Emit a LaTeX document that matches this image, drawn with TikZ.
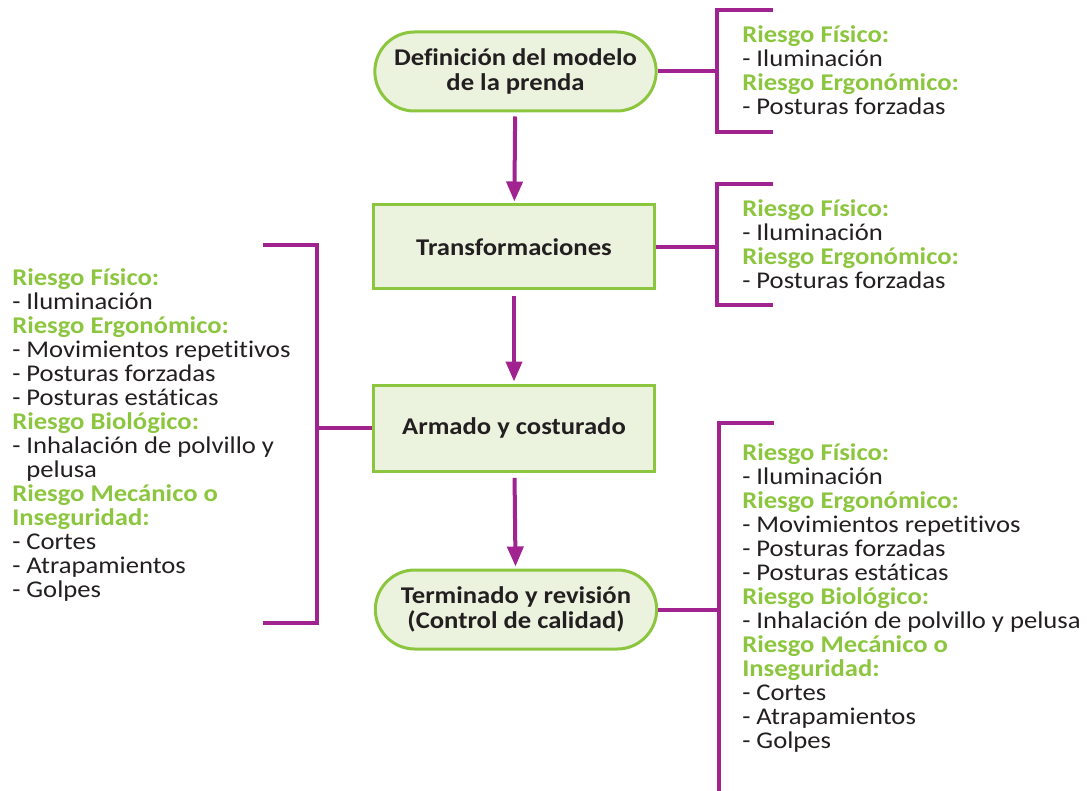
\documentclass[tikz,border=0pt]{standalone}
\usepackage{fontspec}
\setmainfont{Carlito}[FakeStretch=1.11, Ligatures=NoCommon]
\usetikzlibrary{arrows.meta}
\definecolor{purp}{HTML}{A0238F}
\definecolor{grn}{HTML}{8CC63F}
\definecolor{fillg}{HTML}{EBF2DE}
\definecolor{txt}{HTML}{231F20}
\newcommand{\rh}[1]{\textcolor{grn}{\bfseries #1}}
\newcommand{\fl}{\rule{0pt}{14pt}}
\begin{document}
\begin{tikzpicture}[x=0.75pt,y=-0.75pt,
  stagebox/.style={draw=grn, fill=fillg, line width=2.25pt, text=txt,
    font=\bfseries\fontsize{18pt}{18.75pt}\selectfont, align=center,
    minimum width=211pt, inner sep=0pt},
  pill/.style={stagebox, minimum height=59.25pt, rounded corners=29.6pt},
  rectbox/.style={stagebox},
  flow/.style={draw=purp, line width=3pt, -{Triangle[width=12pt,length=15pt]}},
  brk/.style={draw=purp, line width=3pt},
  risk/.style={anchor=north west, inner sep=0pt, align=left, text=txt,
    font=\fontsize{18pt}{18pt}\selectfont}]
\useasboundingbox (0,0) rectangle (1087,791);

% stages
\node[pill] (n1) at (515.5,71.5) {Definición del modelo\\de la prenda};
\node[rectbox, minimum height=63pt] (n2) at (514,247) {Transformaciones};
\node[rectbox, minimum height=64.5pt] (n3) at (514,428) {\raisebox{-2pt}{Armado y costurado}};
\node[pill] (n4) at (516,609.5) {Terminado y revisión\\(Control de calidad)};

% flow arrows
\draw[flow, shorten <=3pt, shorten >=1.5pt] (n1) -- (n2);
\draw[flow, shorten <=4pt, shorten >=1.5pt] (n2) -- (n3);
\draw[flow, shorten <=4pt, shorten >=1.5pt] (n3) -- (n4);

% right bracket 1
\coordinate (a1) at (773,10);
\coordinate (a2) at (717,10);
\coordinate (a3) at (717,132);
\coordinate (a4) at (773,132);
\coordinate (am) at (717,71.5);
\draw[brk] (a1) -- (a2) -- (a3) -- (a4);
\draw[brk] (n1.east) -- (am);

% right bracket 2
\coordinate (b1) at (773,184);
\coordinate (b2) at (717,184);
\coordinate (b3) at (717,305);
\coordinate (b4) at (773,305);
\coordinate (bm) at (717,247);
\draw[brk] (b1) -- (b2) -- (b3) -- (b4);
\draw[brk] (n2.east) -- (bm);

% right bracket 3
\coordinate (c1) at (774,423);
\coordinate (c2) at (719,423);
\coordinate (c3) at (719,795);
\coordinate (cm) at (719,609.5);
\draw[brk] (c1) -- (c2) -- (c3);
\draw[brk] (n4.east) -- (cm);

% left bracket
\coordinate (d1) at (263,245);
\coordinate (d2) at (317,245);
\coordinate (d3) at (317,623);
\coordinate (d4) at (263,623);
\coordinate (dm) at (317,428);
\draw[brk] (d1) -- (d2) -- (d3) -- (d4);
\draw[brk] (dm) -- (n3.west);

% risk texts
\node[risk] (t1) at (742,23.3) {\fl\rh{Riesgo Físico:}\\- Iluminación\\\rh{Riesgo Ergonómico:}\\- Posturas forzadas};
\node[risk] (t2) at (742,197.3) {\fl\rh{Riesgo Físico:}\\- Iluminación\\\rh{Riesgo Ergonómico:}\\- Posturas forzadas};
\node[risk] (t3) at (742,441.3) {\fl\rh{Riesgo Físico:}\\- Iluminación\\\rh{Riesgo Ergonómico:}\\- Movimientos repetitivos\\- Posturas forzadas\\- Posturas estáticas\\\rh{Riesgo Biológico:}\\- Inhalación de polvillo y pelusa\\\rh{Riesgo Mecánico o}\\\rh{Inseguridad:}\\- Cortes\\- Atrapamientos\\- Golpes};
\node[risk] (t4) at (12,266.3) {\fl\rh{Riesgo Físico:}\\- Iluminación\\\rh{Riesgo Ergonómico:}\\- Movimientos repetitivos\\- Posturas forzadas\\- Posturas estáticas\\\rh{Riesgo Biológico:}\\- Inhalación de polvillo y\\\phantom{- }pelusa\\\rh{Riesgo Mecánico o}\\\rh{Inseguridad:}\\- Cortes\\- Atrapamientos\\- Golpes};
\end{tikzpicture}
\end{document}
